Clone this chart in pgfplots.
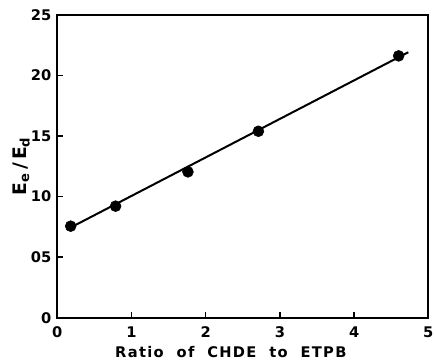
\documentclass[border=0pt]{standalone}
\usepackage{fontspec}
\setmainfont{DejaVu Sans}
\usepackage{pgfplots}
\pgfplotsset{compat=1.18}
\begin{document}
\begin{tikzpicture}[x=1pt,y=1pt]
\useasboundingbox (-43,-32.5) rectangle (284,238.25);
\begin{axis}[
  at={(0,0)}, anchor=origin,
  scale only axis, width=278.25pt, height=227.25pt,
  xmin=0, xmax=5, ymin=0, ymax=25,
  xtick={0,1,2,3,4,5}, ytick={0,5,10,15,20,25},
  yticklabels={0,05,10,15,20,25},
  tick style={black, line width=1pt},
  major tick length=4pt,
  tick align=inside,
  xtick pos=bottom, ytick pos=left,
  axis line style={line width=1.4pt},
  /pgf/number format/assume math mode=true,
  ticklabel style={font=\bfseries\fontsize{11}{12}\selectfont},
  xticklabel style={yshift=-3pt},
  yticklabel style={xshift=-1pt},
  xlabel={\addfontfeatures{LetterSpace=9}Ratio\ \ of\ \ CHDE\ \ to\ \ ETPB},
  xlabel style={font=\bfseries\fontsize{11}{13}\selectfont, yshift=0pt, xshift=-9pt},
  ylabel={E$_{\mathbf{e}}$\,/\,E$_{\mathbf{d}}$},
  ylabel style={font=\bfseries\fontsize{14}{16}\selectfont, yshift=-6pt},
  clip=false,
]
\addplot[black, line width=1.5pt] coordinates {(0.13,7.28) (4.73,21.9)};
\addplot[only marks, mark=*, mark size=4.1pt, black] coordinates {
  (0.18,7.55) (0.785,9.2) (1.76,12.03) (2.71,15.38) (4.6,21.6)};
\end{axis}
\end{tikzpicture}
\end{document}
